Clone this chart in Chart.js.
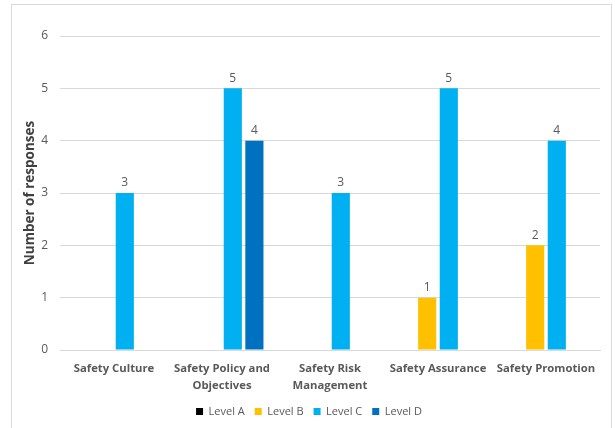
<!DOCTYPE html>
<html>
<head>
<meta charset="utf-8">
<script src="https://cdn.jsdelivr.net/npm/chart.js@4"></script>
<style>
    html, body { margin: 0; padding: 0; background: #fff; }
    #wrap { position: relative; width: 615px; height: 428px; overflow: hidden; }
    #frame {
        position: absolute; left: 11px; top: 4px; width: 601px; height: 440px;
        border: 1px solid #d9d9d9; box-sizing: border-box;
    }
    canvas { position: absolute; left: 0; top: 0; }
</style>
</head>
<body>
<div id="wrap">
    <div id="frame"></div>
    <canvas id="chart" width="615" height="428"></canvas>
</div>
<script>
const categories = [
    "Safety Culture",
    ["Safety Policy and", "Objectives"],
    ["Safety Risk", "Management"],
    "Safety Assurance",
    "Safety Promotion"
];
const levelA = [0, 0, 0, 0, 0];
const levelB = [0, 0, 0, 1, 2];
const levelC = [3, 5, 3, 5, 4];
const levelD = [0, 4, 0, 0, 0];
const yTicks = [0, 1, 2, 3, 4, 5, 6];

const textColor = "#595959";
const fontFamily = "'Open Sans', 'Liberation Sans', sans-serif";

// writes the count above each bar that has one
const valueLabels = {
    id: "valueLabels",
    afterDatasetsDraw(chart) {
        const ctx = chart.ctx;
        ctx.save();
        ctx.fillStyle = textColor;
        ctx.font = "12px " + fontFamily;
        ctx.textAlign = "center";
        ctx.textBaseline = "bottom";
        chart.data.datasets.forEach((ds, i) => {
            chart.getDatasetMeta(i).data.forEach((bar, j) => {
                if (ds.data[j] > 0) ctx.fillText(ds.data[j], bar.x, bar.y - 4);
            });
        });
        ctx.restore();
    }
};

const bar = (label, data, color) => ({
    label, data, backgroundColor: color,
    categoryPercentage: 0.8, barPercentage: 0.84
});

new Chart(document.getElementById("chart"), {
    type: "bar",
    data: {
        labels: categories,
        datasets: [
            bar("Level A", levelA, "#000000"),
            bar("Level B", levelB, "#FFC000"),
            bar("Level C", levelC, "#00B0F0"),
            bar("Level D", levelD, "#0070C0")
        ]
    },
    options: {
        responsive: false,
        animation: false,
        layout: { padding: { left: 18, right: 15, top: 36, bottom: 1 } },
        plugins: {
            tooltip: { enabled: false },
            legend: {
                position: "bottom",
                labels: {
                    boxWidth: 7, boxHeight: 7, padding: 10,
                    color: textColor,
                    font: { family: fontFamily, size: 11 }
                }
            }
        },
        scales: {
            x: {
                grid: { display: false },
                border: { color: "#d9d9d9" },
                ticks: {
                    color: textColor, maxRotation: 0, autoSkip: false, padding: 3,
                    font: { family: fontFamily, size: 11.3, weight: "bold", lineHeight: 1.45 }
                },
                afterFit: s => { s.height = 46; }
            },
            y: {
                min: 0, max: 6,
                afterBuildTicks: s => { s.ticks = yTicks.map(v => ({ value: v })); },
                grid: { color: "#d9d9d9", drawTicks: false },
                border: { display: false },
                ticks: {
                    color: textColor, padding: 12,
                    font: { family: fontFamily, size: 12 }
                },
                title: {
                    display: true, text: "Number of responses", color: "#404040",
                    font: { family: fontFamily, size: 13.5, weight: "bold" }
                },
                afterFit: s => { s.width = 42; }
            }
        }
    },
    plugins: [valueLabels]
});
</script>
</body>
</html>
